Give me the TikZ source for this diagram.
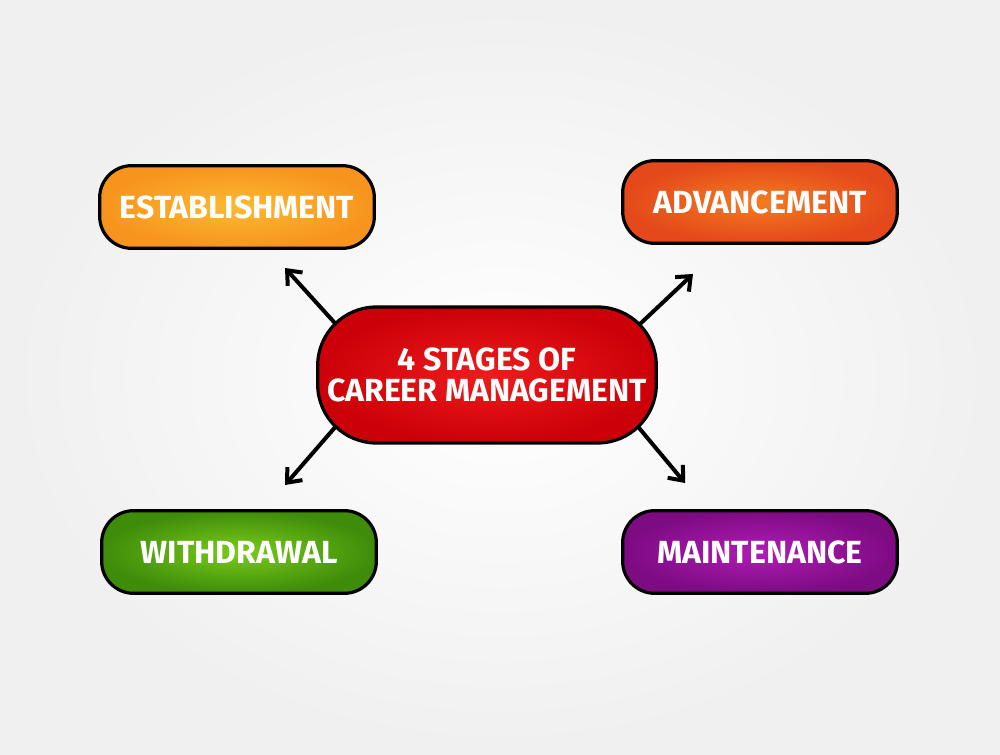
\documentclass[tikz,border=0pt]{standalone}
\usepackage{fontspec}
\setmainfont{Fira Sans}
\usetikzlibrary{arrows.meta,backgrounds}

\definecolor{orangeout}{HTML}{F7941D}
\definecolor{orangein}{HTML}{FDB933}
\definecolor{redorangeout}{HTML}{E4481B}
\definecolor{redorangein}{HTML}{F47B20}
\definecolor{redout}{HTML}{CC0008}
\definecolor{redin}{HTML}{EE1C1C}
\definecolor{greenout}{HTML}{3E8C0A}
\definecolor{greenin}{HTML}{7ACC1A}
\definecolor{purpleout}{HTML}{7D0B82}
\definecolor{purplein}{HTML}{B01DB5}

\tikzset{
  stagebox/.style={draw=black, line width=2.4pt, rounded corners=24pt,
    minimum width=206pt, minimum height=62pt, text=white,
    font=\fontsize{24}{23}\selectfont\bfseries},
  hubbox/.style={stagebox, rounded corners=44pt, minimum width=254pt,
    minimum height=102pt, align=center},
  spoke/.style={line width=3pt, line cap=round,
    -{Straight Barb[length=9pt,width=15pt,line width=3pt]}}
}

\begin{document}
\begin{tikzpicture}[x=0.75pt,y=-0.75pt]
  \useasboundingbox (0,0) rectangle (1000,755);
  % Nodes
  \node[hubbox, inner color=redin, outer color=redout] (career) at (487,375)
    {4 STAGES OF\\CAREER MANAGEMENT};
  \node[stagebox, inner color=orangein, outer color=orangeout] (establish) at (237,207) {ESTABLISHMENT};
  \node[stagebox, inner color=redorangein, outer color=redorangeout] (advance) at (760,202) {ADVANCEMENT};
  \node[stagebox, inner color=greenin, outer color=greenout] (withdraw) at (239,552) {WITHDRAWAL};
  \node[stagebox, inner color=purplein, outer color=purpleout] (maintain) at (760,552) {MAINTENANCE};
  \coordinate (nwtip) at (285,268);
  \coordinate (netip) at (693,274);
  \coordinate (swtip) at (285,485);
  \coordinate (setip) at (685,483);
  % Arrows
  \begin{scope}[on background layer]
    \shade[inner color=white, outer color=black!6] (0,0) rectangle (1000,755);
    \draw[spoke] ([shift={(30,30)}]career.north west) -- (nwtip);
    \draw[spoke] ([shift={(-30,30)}]career.north east) -- (netip);
    \draw[spoke] ([shift={(30,-30)}]career.south west) -- (swtip);
    \draw[spoke] ([shift={(-30,-30)}]career.south east) -- (setip);
  \end{scope}
\end{tikzpicture}
\end{document}
